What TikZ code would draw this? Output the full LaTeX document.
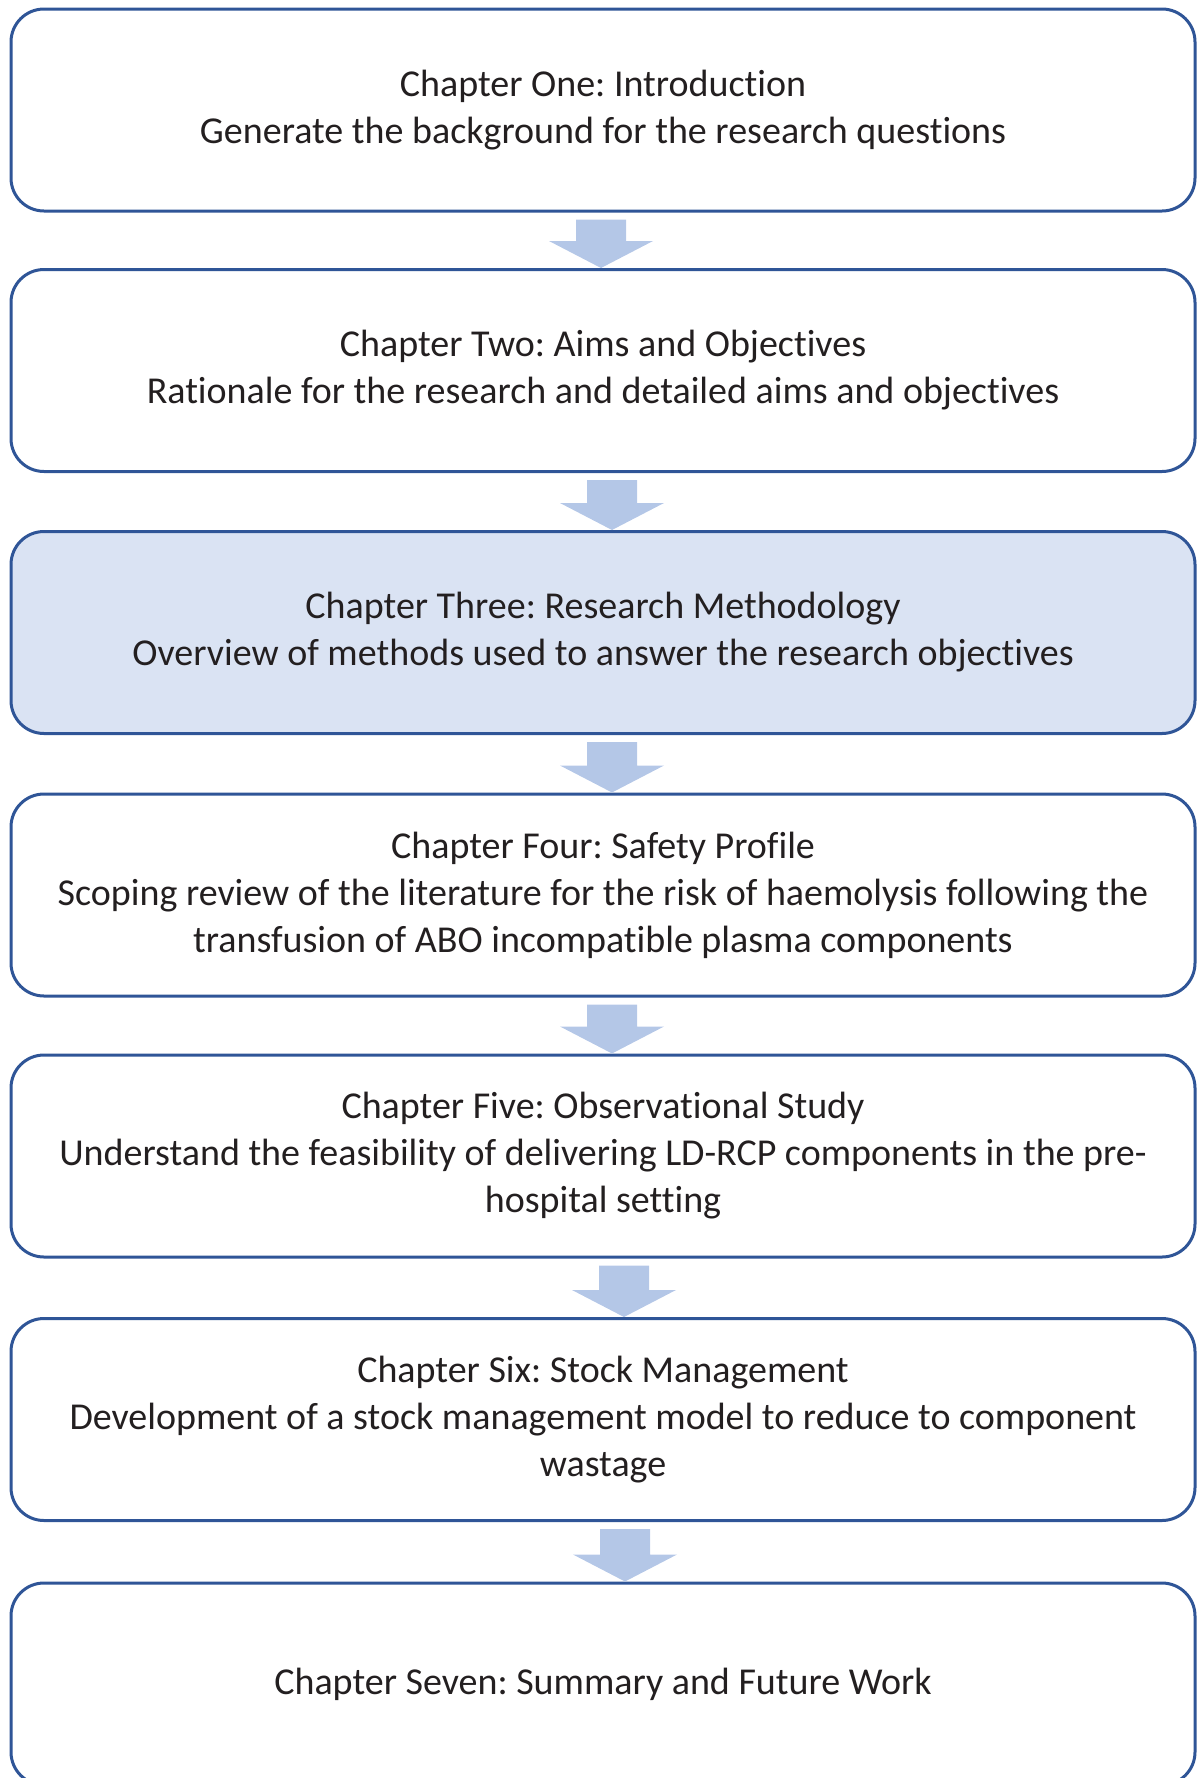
\documentclass[tikz,border=0pt]{standalone}
\usepackage{fontspec}
\setmainfont{Carlito}[Ligatures=NoCommon]
\usepackage{tikz}
\usetikzlibrary{calc}
\frenchspacing

\definecolor{chapline}{HTML}{2F5597}
\definecolor{chapfill}{HTML}{DAE3F3}
\definecolor{flowfill}{HTML}{B4C7E7}
\definecolor{chaptext}{HTML}{231F20}

% block arrow from the bottom of one box to the top of the next
\newcommand{\flowarrow}[3]{%
  \fill[flowfill] ($(#1.south)+({#3-25},7)$) -- ($(#1.south)+({#3+25},7)$)
    -- ($(#2.north)+({#3+25},-27)$) -- ($(#2.north)+({#3+52},-27)$)
    -- ($(#2.north)+(#3,0)$) -- ($(#2.north)+({#3-52},-27)$)
    -- ($(#2.north)+({#3-25},-27)$) -- cycle;}

\begin{document}
\begin{tikzpicture}[x=1pt, y=-1pt,
    chapbox/.style={draw=chapline, line width=3pt, rounded corners=33pt,
      minimum width=1184pt, minimum height=202pt, align=center,
      text=chaptext, font=\fontsize{38}{47}\selectfont}]
	\useasboundingbox (0,0) rectangle (1200,1778);

	\node[chapbox, fill=white] (ch1) at (603,110) {Chapter One: Introduction\\Generate the background for the research questions};
	\node[chapbox, fill=white] (ch2) at (603,370.5) {Chapter Two: Aims and Objectives\\Rationale for the research and detailed aims and objectives};
	\node[chapbox, fill=chapfill] (ch3) at (603,632.5) {Chapter Three: Research Methodology\\Overview of methods used to answer the research objectives};
	\node[chapbox, fill=white] (ch4) at (603,895) {Chapter Four: Safety Profile\\Scoping review of the literature for the risk of haemolysis following the\\transfusion of ABO incompatible plasma components};
	\node[chapbox, fill=white] (ch5) at (603,1156) {Chapter Five: Observational Study\\Understand the feasibility of delivering LD-RCP components in the pre-\\hospital setting};
	\node[chapbox, fill=white] (ch6) at (603,1419.5) {Chapter Six: Stock Management\\Development of a stock management model to reduce to component\\wastage};
	\node[chapbox, fill=white] (ch7) at (603,1684) {Chapter Seven: Summary and Future Work};

	\flowarrow{ch1}{ch2}{-2}
	\flowarrow{ch2}{ch3}{9}
	\flowarrow{ch3}{ch4}{9}
	\flowarrow{ch4}{ch5}{9}
	\flowarrow{ch5}{ch6}{21}
	\flowarrow{ch6}{ch7}{22}
\end{tikzpicture}
\end{document}
